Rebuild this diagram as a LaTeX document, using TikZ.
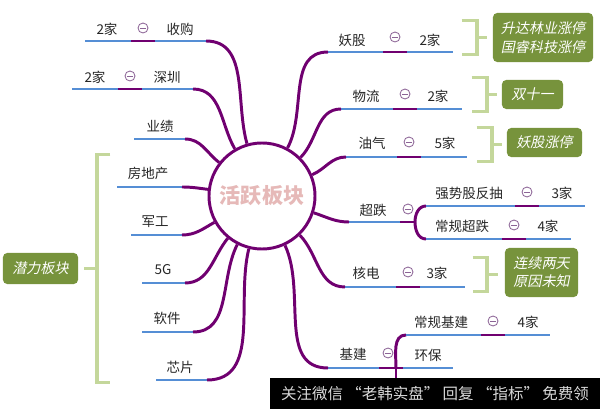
\documentclass[tikz,border=0pt]{standalone}
\usepackage{fontspec}
\setmainfont{Noto Sans CJK SC}
\newfontfamily\slfont[FakeSlant=0.2]{Noto Sans CJK SC}
\usepackage{tikz}
\usetikzlibrary{calc}
\definecolor{mp}{RGB}{112,0,112}
\definecolor{lb}{RGB}{85,142,213}
\definecolor{gl}{RGB}{196,215,155}
\definecolor{go}{RGB}{119,147,60}
\definecolor{ic}{RGB}{140,100,150}
\definecolor{pk}{RGB}{230,185,184}
\tikzstyle{hubnode} = [circle, draw=mp, line width=2.1pt, fill=white, minimum size=2.65cm, inner sep=0pt, text=pk, font=\fontsize{15}{18}\selectfont\bfseries]
\tikzstyle{lbl} = [inner sep=0pt, text=black!85, font=\fontsize{9.6}{11}\selectfont]
\tikzstyle{tog} = [circle, draw=ic, line width=0.6pt, minimum size=0.25cm, inner sep=0pt, path picture={\draw[ic, line width=0.6pt] ([xshift=-2.2pt]path picture bounding box.center) -- ([xshift=2.2pt]path picture bounding box.center);}]
\tikzstyle{note} = [rectangle, rounded corners=3pt, fill=go, text=white, align=center, inner sep=0pt, font=\slfont\fontsize{10}{13}\selectfont]
\tikzstyle{brk} = [line width=2.8pt, draw=gl]
\tikzstyle{bl} = [line width=2.1pt, draw=lb]
\tikzstyle{pl} = [line width=2.1pt, draw=mp]
\tikzstyle{pc} = [line width=2.1pt, draw=mp]
\begin{document}
\begin{tikzpicture}[x=0.025cm, y=0.025cm]
    \useasboundingbox (0,0) rectangle (600,409);

    \node (hub) [hubnode] at (262,213) {活跃板块};

    % left side
    \coordinate (sga) at (85,368);
    \coordinate (sgb) at (206,368);
    \node (sgn) [lbl] at (107,380) {2家};
    \node (sgi) [tog] at (143,381) {};
    \node (sgt) [lbl] at (180,380) {收购};
    \draw [bl] (sga) -- (sgb);
    \draw [pl] ($(sgi |- sga)+(-12,0)$) -- ($(sgi |- sga)+(12,0)$);
    \draw [pc] (sgb) to[out=0, in=106] (hub.106);

    \coordinate (sza) at (72,320);
    \coordinate (szb) at (193,320);
    \node (szn) [lbl] at (95,332) {2家};
    \node (szi) [tog] at (130,333) {};
    \node (szt) [lbl] at (167,332) {深圳};
    \draw [bl] (sza) -- (szb);
    \draw [pl] ($(szi |- sza)+(-12,0)$) -- ($(szi |- sza)+(12,0)$);
    \draw [pc] (szb) to[out=0, in=120] (hub.120);

    \coordinate (yja) at (134,270);
    \coordinate (yjb) at (185,270);
    \node (yjt) [lbl] at (160,283) {业绩};
    \draw [bl] (yja) -- (yjb);
    \draw [pc] (yjb) to[out=0, in=142] (hub.142);

    \coordinate (fda) at (117,222);
    \coordinate (fdb) at (182,222);
    \node (fdt) [lbl] at (148,236) {房地产};
    \draw [bl] (fda) -- (fdb);
    \draw [pc] (fdb) to[out=0, in=173] (hub.173);

    \coordinate (jga) at (131,174);
    \coordinate (jgb) at (182,174);
    \node (jgt) [lbl] at (155,187) {军工};
    \draw [bl] (jga) -- (jgb);
    \draw [pc] (jgb) to[out=0, in=209] (hub.209);

    \coordinate (wga) at (142,126);
    \coordinate (wgb) at (185,126);
    \node (wgt) [lbl] at (163,139) {5G};
    \draw [bl] (wga) -- (wgb);
    \draw [pc] (wgb) to[out=0, in=231] (hub.231);

    \coordinate (rja) at (142,77);
    \coordinate (rjb) at (193,77);
    \node (rjt) [lbl] at (167,91) {软件};
    \draw [bl] (rja) -- (rjb);
    \draw [pc] (rjb) to[out=0, in=243] (hub.243);

    \coordinate (xpa) at (156,29);
    \coordinate (xpb) at (207,29);
    \node (xpt) [lbl] at (180,42) {芯片};
    \draw [bl] (xpa) -- (xpb);
    \draw [pc] (xpb) to[out=0, in=256] (hub.256);

    % right side
    \coordinate (yga) at (328,357);
    \coordinate (ygb) at (453,357);
    \node (ygt) [lbl] at (352,369) {妖股};
    \node (ygi) [tog] at (395,372) {};
    \node (ygn) [lbl] at (430,369) {2家};
    \draw [bl] (yga) -- (ygb);
    \draw [pl] ($(ygi |- yga)+(-12,0)$) -- ($(ygi |- yga)+(12,0)$);
    \draw [pc] (hub.62) to[out=62, in=180] (yga);

    \coordinate (wla) at (341,300);
    \coordinate (wlb) at (462,300);
    \node (wlt) [lbl] at (366,313) {物流};
    \node (wli) [tog] at (405,315) {};
    \node (wln) [lbl] at (438,313) {2家};
    \draw [bl] (wla) -- (wlb);
    \draw [pl] ($(wli |- wla)+(-12,0)$) -- ($(wli |- wla)+(12,0)$);
    \draw [pc] (hub.45) to[out=45, in=180] (wla);

    \coordinate (yqa) at (346,252);
    \coordinate (yqb) at (467,252);
    \node (yqt) [lbl] at (372,266) {油气};
    \node (yqi) [tog] at (409,267) {};
    \node (yqn) [lbl] at (445,266) {5家};
    \draw [bl] (yqa) -- (yqb);
    \draw [pl] ($(yqi |- yqa)+(-12,0)$) -- ($(yqi |- yqa)+(12,0)$);
    \draw [pc] (hub.23) to[out=23, in=180] (yqa);

    \coordinate (cda) at (349,187);
    \coordinate (cdf) at (415,187);
    \node (cdt) [lbl] at (373,199) {超跌};
    \node (cdi) [tog] at (408,200) {};
    \draw [bl] (cda) -- ($(cdi |- cda)+(-8,0)$);
    \draw [pl] ($(cdi |- cda)+(-8,0)$) -- (cdf);
    \draw [pc] (hub.342) to[out=342, in=180] (cda);

    \coordinate (qsa) at (426,203);
    \coordinate (qsb) at (585,203);
    \node (qst) [lbl] at (469,216) {强势股反抽};
    \node (qsi) [tog] at (527,217) {};
    \node (qsn) [lbl] at (562,216) {3家};
    \draw [pc] (cdf) to[out=90, in=180] (qsa);
    \draw [bl] (qsa) -- (qsb);
    \draw [pl] ($(qsi |- qsa)+(-12,0)$) -- ($(qsi |- qsa)+(12,0)$);

    \coordinate (cga) at (426,170);
    \coordinate (cgb) at (571,170);
    \node (cgt) [lbl] at (462,183) {常规超跌};
    \node (cgi) [tog] at (514,184) {};
    \node (cgn) [lbl] at (548,183) {4家};
    \draw [pc] (cdf) to[out=-90, in=180] (cga);
    \draw [bl] (cga) -- (cgb);
    \draw [pl] ($(cgi |- cga)+(-12,0)$) -- ($(cgi |- cga)+(12,0)$);

    \coordinate (hda) at (345,122);
    \coordinate (hdb) at (465,122);
    \node (hdt) [lbl] at (366,136) {核电};
    \node (hdi) [tog] at (408,137) {};
    \node (hdn) [lbl] at (437,136) {3家};
    \draw [bl] (hda) -- (hdb);
    \draw [pl] ($(hdi |- hda)+(-12,0)$) -- ($(hdi |- hda)+(12,0)$);
    \draw [pc] (hub.314) to[out=314, in=180] (hda);

    \coordinate (jja) at (328,41);
    \coordinate (jjb) at (453,41);
    \coordinate (jjf) at (396,41);
    \coordinate (jjd) at (396,18);
    \node (jjt) [lbl] at (353,55) {基建};
    \node (jji) [tog] at (388,56) {};
    \node (hbt) [lbl] at (428,54) {环保};
    \draw [bl] (jja) -- (jjb);
    \draw [pl] ($(jji |- jja)+(-9,0)$) -- ($(jji |- jja)+(15,0)$);
    \draw [pc] (hub.295) to[out=295, in=180] (jja);

    \coordinate (cja) at (406,74);
    \coordinate (cjb) at (550,74);
    \node (cjt) [lbl] at (441,87) {常规基建};
    \node (cji) [tog] at (493,88) {};
    \node (cjn) [lbl] at (528,87) {4家};
    \draw [pc] (jjf) to[out=90, in=180] (cja);
    \draw [pc] (jjf) -- (jjd);
    \draw [bl] (cja) -- (cjb);
    \draw [pl] ($(cji |- cja)+(-12,0)$) -- ($(cji |- cja)+(12,0)$);

    % notes and brackets
    \node (nyg) [note, minimum width=2.5cm, minimum height=1.225cm] at (543,371.5) {升达林业涨停\\国睿科技涨停};
    \draw [brk] ($(nyg.west)+(-31,17)$) -- ++(15,0) -- ++(0,-34) -- ++(-15,0);
    \draw [brk] ($(nyg.west)+(-16,0)$) -- ++(10,0);

    \node (nwl) [note, minimum width=1.525cm, minimum height=0.725cm] at (532.5,314.5) {双十一};
    \draw [brk] ($(nwl.west)+(-30,17)$) -- ++(15,0) -- ++(0,-34) -- ++(-15,0);
    \draw [brk] ($(nwl.west)+(-15,0)$) -- ++(10,0);

    \node (nyq) [note, minimum width=1.875cm, minimum height=0.725cm] at (544.5,266.5) {妖股涨停};
    \draw [brk] ($(nyq.west)+(-30,15)$) -- ++(15,0) -- ++(0,-34) -- ++(-15,0);
    \draw [brk] ($(nyq.west)+(-15,-2)$) -- ++(10,0);

    \node (nhd) [note, minimum width=1.825cm, minimum height=1.225cm] at (541.5,136.5) {连续两天\\原因未知};
    \draw [brk] ($(nhd.west)+(-32,15)$) -- ++(14,0) -- ++(0,-34) -- ++(-14,0);
    \draw [brk] ($(nhd.west)+(-18,-2)$) -- ++(11,0);

    \node (nql) [note, minimum width=1.875cm, minimum height=0.775cm] at (40.5,140.5) {潜力板块};
    \draw [brk] ($(nql.east)+(32,114)$) -- ++(-13,0) -- ++(0,-228) -- ++(13,0);
    \draw [brk] ($(nql.east)+(6,0)$) -- ++(13,0);

    \node (wm) [rectangle, fill=black, minimum width=8.25cm, minimum height=0.775cm, inner sep=0pt, text=white!85!black, font=\fontsize{11}{13}\selectfont] at (435,15.5) {关注微信 “老韩实盘” 回复 “指标” 免费领};
\end{tikzpicture}
\end{document}
